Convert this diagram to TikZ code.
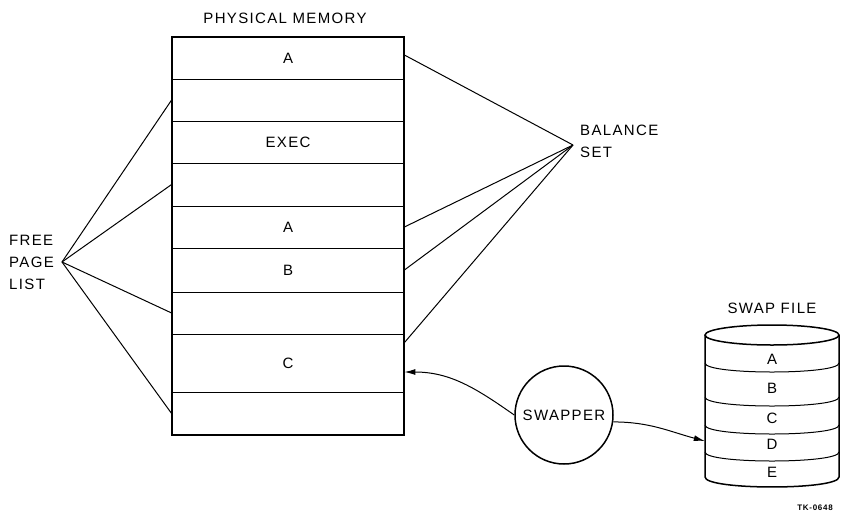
\documentclass[tikz,border=0pt]{standalone}
\usepackage{fontspec}
\setmainfont{Liberation Sans}[LetterSpace=9]
\usetikzlibrary{arrows.meta}

\begin{document}
\begin{tikzpicture}[x=1pt, y=-1pt, font=\fontsize{15}{22}\selectfont,
  row/.style={draw, line width=0.8pt, minimum width=232pt,
              minimum height=#1, inner sep=0pt},
  wire/.style={line width=1pt},
  arr/.style={line width=1pt, -{Latex[length=11pt,width=6pt]}},
  lbl/.style={align=left, inner sep=0pt, anchor=west}
]
  \useasboundingbox (0,0) rectangle (842,514);

  % physical memory
  \node at (285,18) {PHYSICAL MEMORY};
  \node[row=42pt] (r1) at (288,58)    {A};
  \node[row=42pt] (r2) at (288,100)   {};
  \node[row=42pt] (r3) at (288,142)   {EXEC};
  \node[row=43pt] (r4) at (288,184.5) {};
  \node[row=42pt] (r5) at (288,227)   {A};
  \node[row=44pt] (r6) at (288,270)   {B};
  \node[row=42pt] (r7) at (288,313)   {};
  \node[row=58pt] (r8) at (288,363)   {C};
  \node[row=43pt] (r9) at (288,413.5) {};
  \draw[line width=2pt] (r1.north west) rectangle (r9.south east);

  % free page list
  \node[lbl] (fpl) at (9,262) {FREE\\PAGE\\LIST};
  \coordinate (fa) at (62,262);
  \foreach \r in {r2,r4,r7,r9}
    \draw[wire] (fa) -- (\r.west);

  % balance set
  \node[lbl] (bset) at (580,141) {BALANCE\\SET};
  \coordinate (ba) at (573,145);
  \draw[wire] (ba) -- ([yshift=3pt]r1.east);
  \draw[wire] (ba) -- (r5.east);
  \draw[wire] (ba) -- (r6.east);
  \draw[wire] (ba) -- ([yshift=-9pt]r8.north east);

  % swap file
  \node at (772,308) {SWAP FILE};
  \node[minimum width=134pt, minimum height=162pt, inner sep=0pt] (swapfile) at (772,406) {};
  \draw[line width=1.5pt] (772,335) ellipse [x radius=67, y radius=10];
  \draw[line width=1.5pt] (705,335) -- (705,477)
    .. controls (705,490.3) and (839,490.3) .. (839,477) -- (839,335);
  \foreach \y in {363,397,425,452}
    \draw[wire] (705,\y) .. controls (705,\y+12) and (839,\y+12) .. (839,\y);
  \foreach \t/\y in {A/359,B/388,C/418,D/444,E/472}
    \node at (772,\y) {\t};

  % swapper
  \node[circle, draw, line width=1.5pt, minimum size=98pt, inner sep=0pt] (swapper) at (564,415) {SWAPPER};
  \draw[arr] (swapper.west) to[out=145, in=0] ([yshift=-9pt]r8.east);
  \draw[arr] (swapper.-8) to[out=0, in=165] ([yshift=-35pt]swapfile.west);

  \node[font=\fontsize{8}{9}\selectfont\bfseries] (tk) at (815,508) {TK-0648};
\end{tikzpicture}
\end{document}
